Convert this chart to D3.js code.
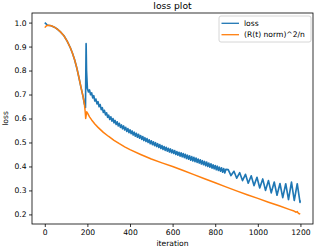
<!DOCTYPE html>
<html>
<head>
<meta charset="utf-8">
<script src="https://cdn.jsdelivr.net/npm/d3@7"></script>
<style>
  body { margin: 0; background: #fff; }
  text { font-family: "DejaVu Sans", sans-serif; }
</style>
</head>
<body>
<script>
// values

var lossIter = [0, 6, 11, 16, 30, 45, 60, 75, 90, 105, 120, 130, 140, 150, 160, 170, 180, 186, 189, 191, 194, 196, 200,
  205, 210, 215, 220, 225, 230, 235, 240, 245, 250, 255, 260, 265, 270, 275, 280, 285, 290, 295, 300,
  305, 310, 315, 320, 325, 330, 335, 340, 345, 350, 355, 360, 365, 370, 375, 380, 385, 390, 395, 400,
  405, 410, 415, 420, 425, 430, 435, 440, 445, 450, 455, 460, 465, 470, 475, 480, 485, 490, 495, 500,
  505, 510, 515, 520, 525, 530, 535, 540, 545, 550, 555, 560, 565, 570, 575, 580, 585, 590, 595, 600,
  605, 610, 615, 620, 625, 630, 635, 640, 645, 650, 655, 660, 665, 670, 675, 680, 685, 690, 695, 700,
  705, 710, 715, 720, 725, 730, 735, 740, 745, 750, 755, 760, 765, 770, 775, 780, 785, 790, 795, 800,
  805, 810, 815, 820, 825, 830, 835, 840, 845, 850,
  861, 874, 888, 901, 915, 928, 942, 955, 969, 982, 996, 1009, 1023, 1036, 1050, 1063, 1077, 1090,
  1104, 1117, 1131, 1144, 1158, 1171, 1185, 1198, 1199];
var lossVal = [1.0, 0.995, 0.990, 0.989, 0.987, 0.981, 0.972, 0.960, 0.945, 0.923, 0.895, 0.872, 0.845, 0.812, 0.772, 0.730, 0.690, 0.660, 0.652, 0.646, 0.912, 0.80, 0.725,
  0.711, 0.719, 0.699, 0.707, 0.686, 0.695, 0.673, 0.681, 0.661, 0.670, 0.649, 0.658, 0.637, 0.645, 0.625, 0.634, 0.615, 0.624, 0.605, 0.614,
  0.596, 0.607, 0.589, 0.600, 0.582, 0.592, 0.575, 0.586, 0.569, 0.580, 0.563, 0.573, 0.557, 0.569, 0.552, 0.563, 0.546, 0.558, 0.541, 0.553,
  0.537, 0.548, 0.531, 0.543, 0.526, 0.538, 0.522, 0.534, 0.518, 0.529, 0.513, 0.525, 0.508, 0.520, 0.504, 0.516, 0.500, 0.511, 0.495, 0.507,
  0.491, 0.503, 0.487, 0.499, 0.483, 0.495, 0.479, 0.491, 0.475, 0.487, 0.471, 0.483, 0.467, 0.480, 0.464, 0.476, 0.460, 0.473, 0.457, 0.469,
  0.454, 0.466, 0.450, 0.462, 0.447, 0.459, 0.443, 0.457, 0.440, 0.454, 0.437, 0.451, 0.433, 0.447, 0.430, 0.444, 0.426, 0.441, 0.423, 0.438,
  0.420, 0.435, 0.417, 0.431, 0.414, 0.428, 0.410, 0.424, 0.407, 0.421, 0.403, 0.418, 0.400, 0.414, 0.397, 0.411, 0.393, 0.407, 0.390, 0.404,
  0.386, 0.401, 0.383, 0.397, 0.380, 0.394, 0.376, 0.391, 0.373, 0.388,
  0.387, 0.362, 0.380, 0.351, 0.374, 0.341, 0.367, 0.330, 0.361, 0.320, 0.355, 0.310, 0.348, 0.300, 0.341, 0.290, 0.335, 0.280,
  0.329, 0.270, 0.328, 0.262, 0.335, 0.258, 0.328, 0.250, 0.258];

var normIter = [0, 8, 16, 30, 45, 60, 75, 90, 105, 120, 130, 140, 150, 160, 170, 180, 186, 190, 192, 194, 197,
  202, 210, 220, 235, 250, 275, 300, 325, 350, 375, 400, 450, 500, 550, 600, 650, 700, 750, 800, 850,
  900, 950, 1000, 1050, 1100, 1150, 1170, 1180, 1185, 1190, 1199];
var normVal = [0.979, 0.987, 0.989, 0.987, 0.981, 0.972, 0.960, 0.945, 0.923, 0.895, 0.872, 0.845, 0.812, 0.772, 0.730, 0.690, 0.660, 0.625, 0.600, 0.612, 0.628,
  0.620, 0.607, 0.594, 0.577, 0.563, 0.542, 0.525, 0.509, 0.495, 0.482, 0.470, 0.450, 0.431, 0.415, 0.400, 0.383, 0.366, 0.349, 0.332, 0.315,
  0.298, 0.282, 0.267, 0.251, 0.236, 0.220, 0.214, 0.209, 0.212, 0.205, 0.201];

var xTicks = [0, 200, 400, 600, 800, 1000, 1200];
var yTicks = [0.2, 0.3, 0.4, 0.5, 0.6, 0.7, 0.8, 0.9, 1.0];
var seriesNames = ["loss", "(R(t) norm)^2/n"];
var colors = ["#1f77b4", "#ff7f0e"];

var W = 316, H = 248;
var m = { left: 32, right: 3, top: 13, bottom: 24 };

var svg = d3.select("body").append("svg")
  .attr("width", W)
  .attr("height", H);

var x = d3.scaleLinear().domain([-60, 1259]).range([m.left, W - m.right]);
var y = d3.scaleLinear().domain([0.16, 1.04]).range([H - m.bottom, m.top]);

// lines (the noisy loss line gets a slightly heavier stroke so its band fills in)
var line = d3.line()
  .x(function (d) { return x(d[0]); })
  .y(function (d) { return y(d[1]); });

var series = [d3.zip(lossIter, lossVal), d3.zip(normIter, normVal)];
var widths = [1.65, 1.5];

svg.append("g")
  .selectAll("path")
  .data(series)
  .enter()
  .append("path")
  .attr("d", line)
  .attr("fill", "none")
  .attr("stroke", function (d, i) { return colors[i]; })
  .attr("stroke-width", function (d, i) { return widths[i]; })
  .attr("stroke-linejoin", "round");

// axes
var xAxis = svg.append("g")
  .attr("transform", "translate(0," + (H - m.bottom) + ")")
  .call(d3.axisBottom(x).tickValues(xTicks).tickFormat(d3.format("d")).tickSize(3).tickPadding(2.5).tickSizeOuter(0));
var yAxis = svg.append("g")
  .attr("transform", "translate(" + m.left + ",0)")
  .call(d3.axisLeft(y).tickValues(yTicks).tickFormat(d3.format(".1f")).tickSize(3).tickPadding(2.5).tickSizeOuter(0));

[xAxis, yAxis].forEach(function (g) {
  g.select(".domain").remove();
  g.selectAll("text").style("font-family", "DejaVu Sans").style("font-size", "7.6px").attr("fill", "#000");
  g.selectAll("line").attr("stroke", "#000").attr("stroke-width", 0.8);
});

// frame
svg.append("rect")
  .attr("x", m.left)
  .attr("y", m.top)
  .attr("width", W - m.left - m.right)
  .attr("height", H - m.top - m.bottom)
  .attr("fill", "none")
  .attr("stroke", "#000")
  .attr("stroke-width", 0.8);

// labels
svg.append("text")
  .attr("x", (m.left + W - m.right) / 2)
  .attr("y", 8.5)
  .attr("text-anchor", "middle")
  .style("font-size", "9.2px")
  .text("loss plot");

svg.append("text")
  .attr("x", (m.left + W - m.right) / 2)
  .attr("y", 246)
  .attr("text-anchor", "middle")
  .style("font-size", "7.6px")
  .text("iteration");

svg.append("text")
  .attr("transform", "translate(8," + ((m.top + H - m.bottom) / 2) + ") rotate(-90)")
  .attr("text-anchor", "middle")
  .style("font-size", "7.6px")
  .text("loss");

// legend
var legend = svg.append("g").attr("transform", "translate(219,16)");
legend.append("rect")
  .attr("width", 92)
  .attr("height", 26)
  .attr("rx", 2)
  .attr("fill", "#fff")
  .attr("fill-opacity", 0.8)
  .attr("stroke", "#ccc")
  .attr("stroke-width", 0.8);

var items = legend.selectAll("g.item")
  .data(seriesNames)
  .enter()
  .append("g")
  .attr("transform", function (d, i) { return "translate(0," + (7.3 + i * 11.4) + ")"; });
items.append("line")
  .attr("x1", 2.5).attr("x2", 20)
  .attr("stroke", function (d, i) { return colors[i]; })
  .attr("stroke-width", 1.3);
items.append("text")
  .attr("x", 25)
  .attr("dy", "0.35em")
  .style("font-size", "7.6px")
  .text(function (d) { return d; });
</script>
</body>
</html>
